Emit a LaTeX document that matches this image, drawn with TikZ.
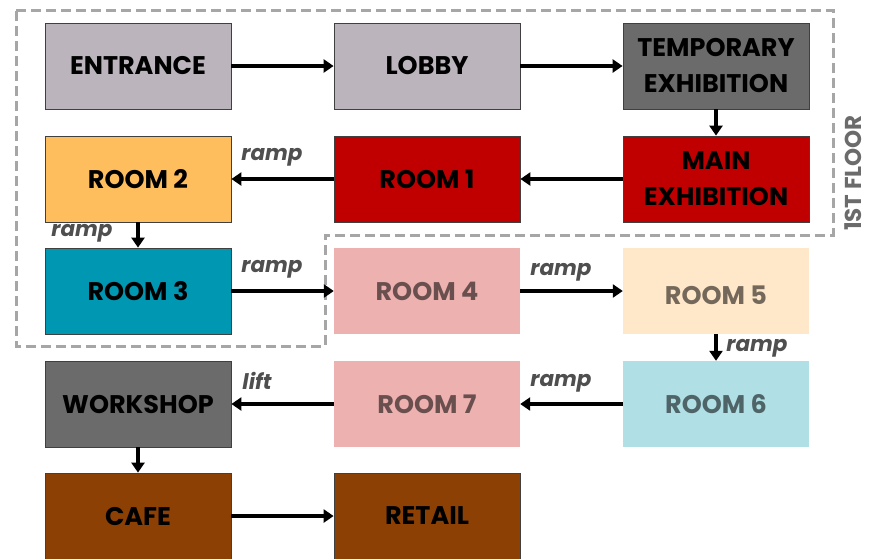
\documentclass[tikz,border=0pt]{standalone}
\usepackage{fontspec}
\setmainfont{Poppins}
\usetikzlibrary{arrows.meta}
\definecolor{cMauve}{HTML}{BCB4BC}
\definecolor{cDark}{HTML}{6B6B6B}
\definecolor{cRed}{HTML}{C00000}
\definecolor{cOrange}{HTML}{FFBE5E}
\definecolor{cTeal}{HTML}{0097B2}
\definecolor{cPink}{HTML}{EDB1B0}
\definecolor{cCream}{HTML}{FFE8C9}
\definecolor{cIce}{HTML}{B0DFE5}
\definecolor{cBrown}{HTML}{8D4004}
\definecolor{cDash}{HTML}{A6A6A6}
\definecolor{cLabel}{HTML}{4F4F4F}
\tikzset{
  room/.style={rectangle, minimum width=186pt, minimum height=86pt, inner sep=0pt,
    align=center, font=\fontsize{25.5}{36}\selectfont\bfseries},
  solidroom/.style={room, draw=black!75, line width=0.8pt},
  paleroom/.style={room, text=black, text opacity=0.55},
  flow/.style={line width=3.2pt, -{Triangle[length=10pt,width=13pt]}},
  lbl/.style={font=\fontsize{21.5}{24}\selectfont\bfseries\itshape, text=cLabel, inner sep=0pt},
  floorline/.style={draw=cDash, line width=3pt, dash pattern=on 10pt off 5pt}
}
\begin{document}
\begin{tikzpicture}[x=1pt,y=-1pt]
\useasboundingbox (0,0) rectangle (869,558);
% floor outline
\draw[floorline] (16,10) -- (833,10) -- (833,235) -- (325,235) -- (325,346) -- (16,346) -- cycle;
\node[rotate=90, inner sep=0pt, font=\fontsize{23}{28}\selectfont\bfseries, text=cDark] (floor) at (853,173) {1ST FLOOR};
% rooms
\node[solidroom, fill=cMauve] (entrance) at (138,66) {ENTRANCE};
\node[solidroom, fill=cMauve] (lobby) at (427,66) {LOBBY};
\node[solidroom, fill=cDark] (temp) at (716,66) {TEMPORARY\\EXHIBITION};
\node[solidroom, fill=cOrange] (room2) at (138,179) {ROOM 2};
\node[solidroom, fill=cRed] (room1) at (427,179) {ROOM 1};
\node[solidroom, fill=cRed] (main) at (716,179) {MAIN\\EXHIBITION};
\node[solidroom, fill=cTeal] (room3) at (138,291) {ROOM 3};
\node[paleroom, fill=cPink] (room4) at (427,291) {ROOM 4};
\node[paleroom, fill=cCream] (room5) at (716,291) {\smash{\raisebox{-13pt}{ROOM 5}}};
\node[solidroom, fill=cDark] (workshop) at (138,404) {WORKSHOP};
\node[paleroom, fill=cPink] (room7) at (427,404) {ROOM 7};
\node[paleroom, fill=cIce] (room6) at (716,404) {ROOM 6};
\node[solidroom, fill=cBrown] (cafe) at (138,516) {CAFE};
\node[solidroom, fill=cBrown] (retail) at (427,516) {RETAIL};
% connectors
\draw[flow] (entrance) -- (lobby);
\draw[flow] (lobby) -- (temp);
\draw[flow] (temp) -- (main);
\draw[flow] (main) -- (room1);
\draw[flow] (room1) -- (room2);
\draw[flow] (room2) -- (room3);
\draw[flow] (room3) -- (room4);
\draw[flow] (room4) -- (room5.west |- room4);
\draw[flow] (room5) -- (room6);
\draw[flow] (room6) -- (room7);
\draw[flow] (room7) -- (workshop);
\draw[flow] (workshop) -- (cafe);
\draw[flow] (cafe) -- (retail);
% labels
\node[lbl] (l1) at (272,157) {ramp};
\node[lbl] (l2) at (82,233) {ramp};
\node[lbl] (l3) at (272,269) {ramp};
\node[lbl] (l4) at (561,272) {ramp};
\node[lbl] (l5) at (757,348) {ramp};
\node[lbl] (l6) at (561,383) {ramp};
\node[lbl] (l7) at (257,381) {lift};
\end{tikzpicture}
\end{document}
